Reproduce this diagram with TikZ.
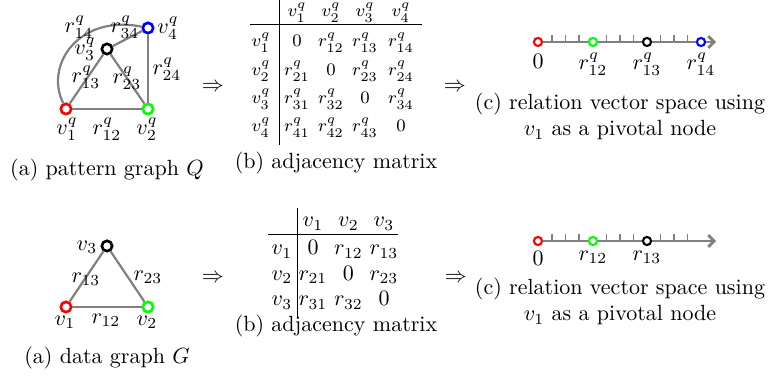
\documentclass[tikz,border=0pt]{standalone}
\usetikzlibrary{arrows.meta,calc}
\begin{document}
\begin{tikzpicture}[x=0.4545pt,y=-0.4545pt,
  vtx/.style={circle,draw,line width=1.2pt,minimum size=4.7pt,inner sep=0pt},
  pnt/.style={circle,draw,line width=0.95pt,minimum size=3.7pt,inner sep=0pt},
  edge/.style={draw=gray,line width=1pt},
  axis/.style={draw=gray,line width=1.3pt},
  tck/.style={draw=gray,line width=0.75pt},
  lbl/.style={inner sep=0pt},
  cell/.style={inner sep=0pt,anchor=base,font=\footnotesize},
  cellb/.style={inner sep=0pt,anchor=base},
  rul/.style={draw=black,line width=0.45pt},
  imp/.style={inner sep=0pt},
  capt/.style={inner sep=0pt,align=center},
  tipped/.style={-{Straight Barb[length=2.6pt,width=5.4pt]}}]
\useasboundingbox (0,0) rectangle (770,376);

% ---------- top: pattern graph Q ----------
\node[vtx,draw=red] (q1) at (66,109) {};
\node[vtx,draw=green] (q2) at (148,109) {};
\node[vtx,draw=black] (q3) at (107,49) {};
\node[vtx,draw=blue] (q4) at (148,28) {};
\draw[edge] (q1) -- (q2);
\draw[edge] (q1) -- (q3);
\draw[edge] (q3) -- (q2);
\draw[edge] (q2) -- (q4);
\draw[edge] (q3) -- (q4);
\draw[edge] (q1) .. controls (44,64) and (80,14) .. (q4);
\node[lbl] (lq14) at (79,27) {$r^q_{14}$};
\node[lbl] (lq34) at (125,27) {$r^q_{34}$};
\node[lbl] (lqv4) at (168,28) {$v^q_4$};
\node[lbl] (lqv3) at (85,49) {$v^q_3$};
\node[lbl] (lq13) at (86,77) {$r^q_{13}$};
\node[lbl] (lq23) at (127,78) {$r^q_{23}$};
\node[lbl] (lq24) at (167,69) {$r^q_{24}$};
\node[lbl] (lqv1) at (67,129) {$v^q_1$};
\node[lbl] (lq12) at (107,129) {$r^q_{12}$};
\node[lbl] (lqv2) at (147,129) {$v^q_2$};
\node[lbl] (capqa) at (107,170) {(a) pattern graph $Q$};

\node[imp] (iq1) at (213,87) {$\Rightarrow$};
\node[imp] (iq2) at (455,87) {$\Rightarrow$};

% ---------- top: adjacency matrix ----------
\foreach \j/\x in {1/297,2/331,3/365,4/401}
  \node[cell] (qh\j) at (\x,17) {$v^q_{\j}$};
\foreach \i/\y in {1/47,2/75.3,3/103.6,4/131.9} {
  \node[cell] (qr\i) at (261,\y) {$v^q_{\i}$};
  \foreach \j/\x in {1/297,2/331,3/365,4/401} {
    \ifnum\i=\j\relax
      \node[cell] (qm\i\j) at (\x,\y) {$0$};
    \else
      \node[cell] (qm\i\j) at (\x,\y) {$r^q_{\i\j}$};
    \fi
  }
}
\draw[rul] (250,25) -- (422,25);
\draw[rul] (279,0) -- (279,145);
\node[lbl] (capqb) at (336,163) {(b) adjacency matrix};

% ---------- top: relation vector space ----------
\node[pnt,draw=red] (p0) at (538,42) {};
\node[pnt,draw=green] (p12) at (593,42) {};
\node[pnt,draw=black] (p13) at (647,42) {};
\node[pnt,draw=blue] (p14) at (701,42) {};
\coordinate (pe) at (716,42);
\draw[axis] (p0) -- (p12);
\draw[axis] (p12) -- (p13);
\draw[axis] (p13) -- (p14);
\draw[axis,tipped] (p14) -- (pe);
\foreach \a/\b in {p0/p12,p12/p13,p13/p14}
  \foreach \t in {0.25,0.5,0.75}
    \draw[tck] ($(\a)!\t!(\b)$) -- ++(0,-6.5);
\node[lbl] (lp0) at (538,61) {$0$};
\node[lbl] (lp12) at (593,64) {$r^q_{12}$};
\node[lbl] (lp13) at (647,64) {$r^q_{13}$};
\node[lbl] (lp14) at (701,64) {$r^q_{14}$};
\node[capt] (capqc) at (620,116.5) {(c) relation vector space using\\ $v_1$ as a pivotal node};

% ---------- bottom: data graph G ----------
\node[vtx,draw=red] (g1) at (66,307) {};
\node[vtx,draw=green] (g2) at (148,307) {};
\node[vtx,draw=black] (g3) at (107,246) {};
\draw[edge] (g1) -- (g2);
\draw[edge] (g1) -- (g3);
\draw[edge] (g3) -- (g2);
\node[lbl] (lgv3) at (87,247) {$v_3$};
\node[lbl] (lg13) at (86,279) {$r_{13}$};
\node[lbl] (lg23) at (148,277) {$r_{23}$};
\node[lbl] (lgv1) at (65,322) {$v_1$};
\node[lbl] (lg12) at (106,320) {$r_{12}$};
\node[lbl] (lgv2) at (147,322) {$v_2$};
\node[lbl] (capga) at (107,358) {(a) data graph $G$};

\node[imp] (ig1) at (213,278) {$\Rightarrow$};
\node[imp] (ig2) at (456,278) {$\Rightarrow$};

% ---------- bottom: adjacency matrix ----------
\foreach \j/\x in {1/313,2/348.5,3/384}
  \node[cellb] (gh\j) at (\x,227) {$v_{\j}$};
\foreach \i/\y in {1/255,2/280.5,3/306} {
  \node[cellb] (gr\i) at (282,\y) {$v_{\i}$};
  \foreach \j/\x in {1/313,2/348.5,3/384} {
    \ifnum\i=\j\relax
      \node[cellb] (gm\i\j) at (\x,\y) {$0$};
    \else
      \node[cellb] (gm\i\j) at (\x,\y) {$r_{\i\j}$};
    \fi
  }
}
\draw[rul] (268,235) -- (398,235);
\draw[rul] (297,208) -- (297,318);
\node[lbl] (capgb) at (336,326) {(b) adjacency matrix};

% ---------- bottom: relation vector space ----------
\node[pnt,draw=red] (b0) at (538,241) {};
\node[pnt,draw=green] (b12) at (593,241) {};
\node[pnt,draw=black] (b13) at (647,241) {};
\coordinate (bt) at (701,241);
\coordinate (be) at (716,241);
\draw[axis] (b0) -- (b12);
\draw[axis] (b12) -- (b13);
\draw[axis,tipped] (b13) -- (be);
\foreach \a/\b in {b0/b12,b12/b13,b13/bt}
  \foreach \t in {0.25,0.5,0.75}
    \draw[tck] ($(\a)!\t!(\b)$) -- ++(0,-6.5);
\node[lbl] (lb0) at (538,258) {$0$};
\node[lbl] (lb12) at (593,257) {$r_{12}$};
\node[lbl] (lb13) at (647,257) {$r_{13}$};
\node[capt] (capgc) at (620,301.5) {(c) relation vector space using\\ $v_1$ as a pivotal node};
\end{tikzpicture}
\end{document}
